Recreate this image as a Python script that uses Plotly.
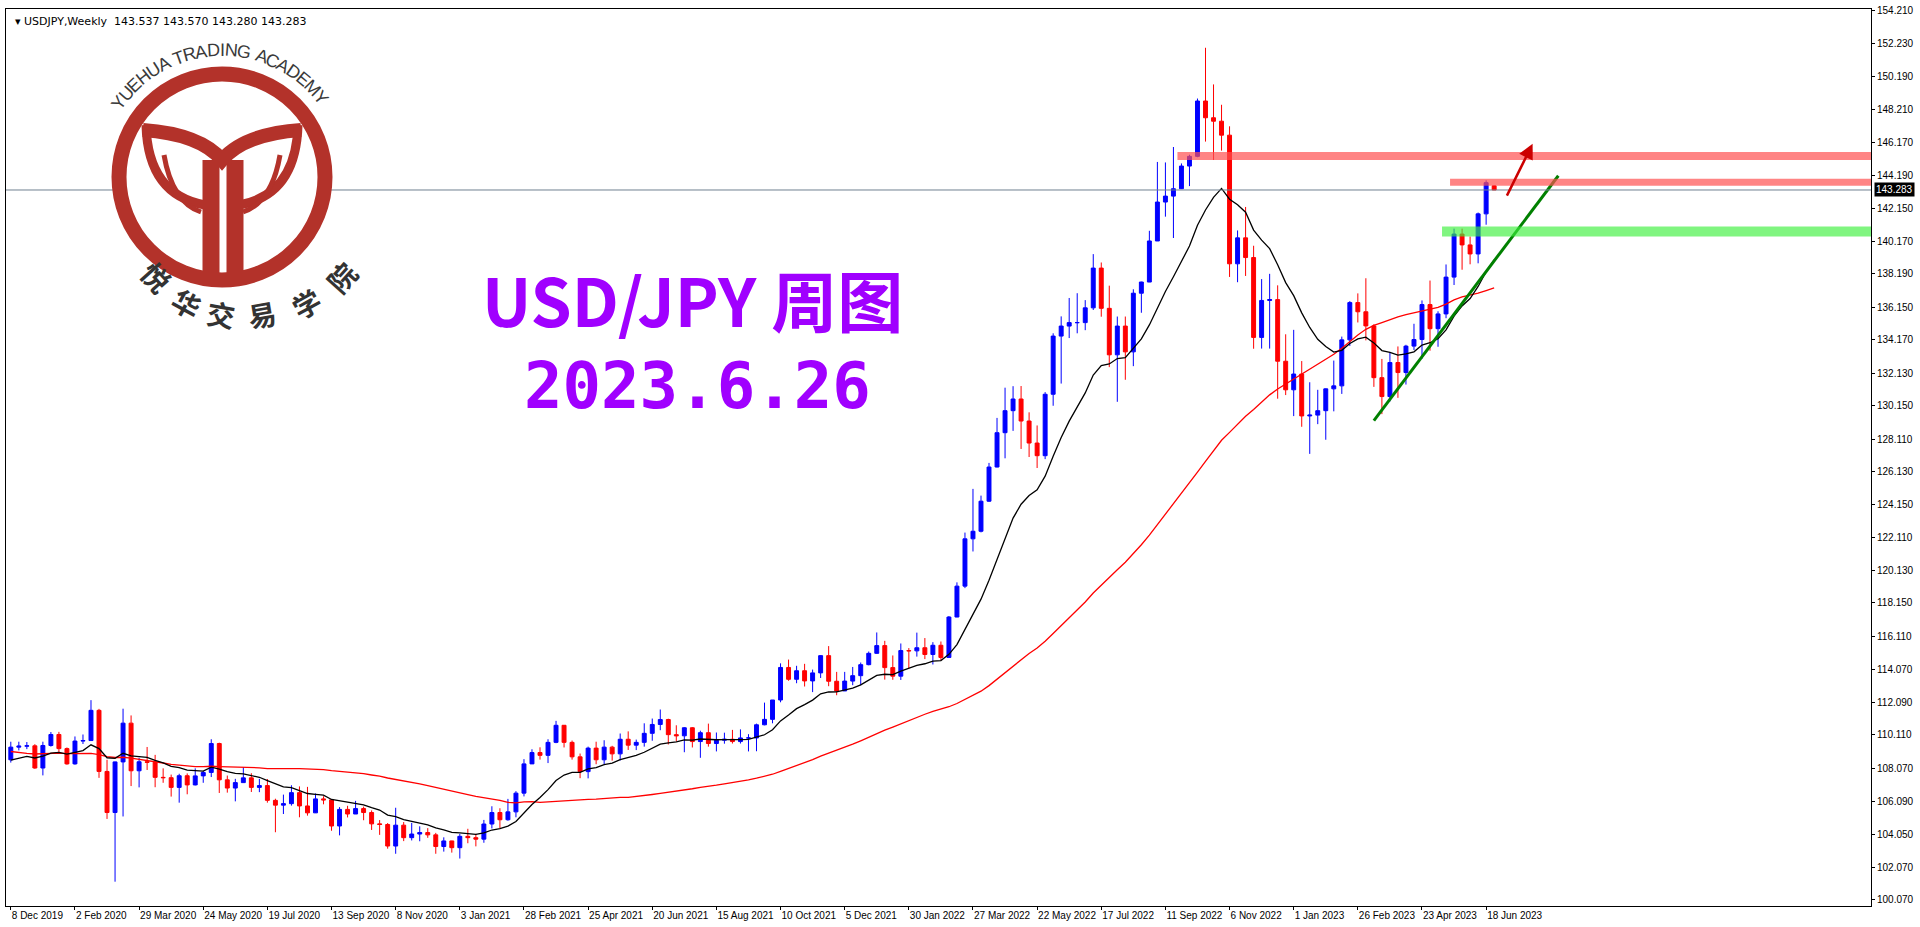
import math
import pandas as pd
import plotly.graph_objects as go

# ---------------- data ----------------
pre_closes = [112.7,113.4,111.2,110.3,108.5,108.2,109.6,109.5,109.7,110.5,110.7,111.9,111.2,111.5,110.0,110.9,
              111.7,112.0,111.9,111.6,111.1,109.9,110.1,109.3,108.3,108.2,108.6,107.3,107.8,108.5,107.9,107.7,
              108.7,106.6,105.7,106.4,105.4,106.3,106.9,108.1,107.6,107.9,106.9,108.4,108.4,108.7,108.2,109.3,
              108.8,108.7,109.5,108.6]
first_open = 108.60
last_open = 143.537
closes = [109.37,109.43,109.45,108.10,
 109.47,110.14,109.28,108.35,109.74,109.77,111.61,107.89,105.39,108.47,110.83,107.93,108.48,
 108.45,107.53,107.51,106.92,107.63,107.07,107.62,107.83,109.59,107.38,106.88,107.21,107.50,
 106.92,107.03,106.13,105.84,105.93,106.60,105.79,105.37,106.22,106.16,104.57,105.58,105.30,
 105.63,105.39,104.70,104.66,103.35,104.62,103.86,104.08,104.17,104.03,103.32,103.66,103.25,
 103.94,103.86,103.77,104.69,105.39,104.95,105.43,106.57,108.35,109.04,108.87,109.66,110.70,
 109.66,108.78,107.88,109.31,108.60,109.37,108.96,109.85,109.49,109.66,110.21,110.75,111.05,
 110.13,110.06,110.55,109.71,110.25,109.59,109.79,109.85,109.71,109.93,109.93,110.73,111.06,
 112.24,114.22,113.50,114.02,113.40,113.89,114.94,113.38,112.79,113.39,113.72,114.39,115.08,
 115.55,114.21,113.69,115.25,115.23,115.42,115.01,115.57,114.83,117.29,119.17,122.05,122.51,
 124.34,126.42,128.51,129.85,130.56,129.22,127.88,127.11,130.85,134.39,135.00,135.21,135.21,
 136.11,138.53,136.08,133.25,135.00,133.43,137.00,137.68,140.18,142.55,142.91,143.36,144.74,
 145.33,148.70,147.68,147.47,146.62,138.79,140.37,139.17,134.31,136.56,136.61,132.86,131.12,
 132.08,129.53,129.58,129.85,131.18,131.36,134.16,136.43,135.87,135.01,131.86,130.71,132.78,
 132.17,133.78,134.18,136.31,134.84,135.74,137.98,140.60,139.94,139.39,141.83,143.73,143.283]
highs = [109.70,109.70,109.68,109.55,
 109.70,110.29,110.30,109.35,110.02,110.14,112.23,111.70,108.60,108.49,111.71,111.30,108.72,
 109.38,108.90,108.08,107.70,107.75,107.77,108.08,107.92,109.85,109.64,107.64,107.44,108.16,
 107.78,107.44,107.43,106.23,106.48,107.05,106.98,106.95,106.55,106.38,106.10,105.72,105.80,
 106.10,105.75,105.52,104.93,104.75,105.68,104.81,104.76,104.55,104.44,104.15,103.88,103.67,
 104.09,104.40,104.09,104.94,105.77,105.65,106.22,106.69,108.64,109.24,109.36,109.85,110.97,
 110.46,109.77,108.98,109.40,109.70,109.79,109.45,110.20,110.33,109.83,110.82,111.11,111.66,
 111.10,110.70,110.59,110.59,110.37,110.80,110.26,110.25,110.42,110.45,110.16,110.80,112.08,
 112.24,114.47,114.70,114.32,114.44,114.09,114.97,115.52,113.95,113.95,114.25,114.52,115.19,
 116.35,115.84,114.95,115.68,115.40,116.34,116.01,115.76,115.80,117.35,119.40,122.43,125.09,
 124.68,126.67,129.41,131.25,131.34,131.35,129.75,128.95,130.98,134.56,135.59,136.71,137.00,
 136.58,139.38,138.87,137.46,135.58,135.58,137.24,137.70,140.80,144.99,144.96,145.90,144.90,
 145.43,148.85,151.94,149.71,148.47,147.16,140.82,142.25,139.89,137.86,138.18,137.48,134.50,
 134.77,132.87,131.58,131.12,131.20,132.90,134.36,136.52,136.99,137.91,135.11,133.00,133.39,
 133.76,133.86,135.14,136.56,137.77,135.90,138.75,140.93,140.93,140.45,141.91,143.87,143.570]
lows = [108.43,109.17,109.25,108.05,
 107.65,109.40,109.00,108.30,108.30,109.56,109.75,107.50,105.00,101.18,105.15,107.00,106.92,
 107.98,106.93,107.20,106.36,105.99,106.50,107.04,107.20,107.55,106.58,106.60,106.07,107.20,
 106.64,106.63,105.99,104.19,105.30,105.81,105.10,105.20,105.58,105.89,104.28,104.00,105.09,
 105.30,104.92,104.33,104.03,103.19,102.88,103.65,103.69,103.64,103.85,102.88,103.01,102.95,
 102.59,103.52,103.33,103.55,104.42,104.42,104.89,105.10,106.37,108.34,108.61,108.40,109.61,
 109.35,108.61,107.48,107.47,108.33,108.34,108.55,108.56,109.20,109.19,109.40,109.76,110.40,
 109.53,109.72,109.06,109.35,108.72,109.40,109.11,109.58,109.59,109.59,109.11,109.12,110.70,
 110.82,112.10,113.41,113.26,113.06,112.72,113.58,113.08,112.53,113.06,113.14,113.14,114.35,
 115.05,113.48,113.47,113.46,114.16,114.88,114.73,114.40,114.65,114.82,117.28,119.05,121.28,
 122.44,124.30,126.40,126.95,128.62,127.52,127.03,126.36,126.90,130.15,131.50,134.27,134.56,
 134.75,135.98,135.57,132.50,130.39,131.73,132.56,135.81,137.70,140.25,141.66,140.36,143.50,
 143.52,145.28,146.23,145.11,145.68,137.99,137.67,138.05,133.62,133.63,133.63,130.58,130.80,
 129.52,128.87,127.22,129.03,128.08,129.81,130.87,133.79,135.22,134.13,131.30,129.64,130.41,
 130.63,131.44,133.54,133.01,133.50,133.74,135.48,137.50,138.43,138.76,138.82,141.17,143.280]

y_ticks = [154.210,152.230,150.190,148.210,146.170,144.190,142.150,140.170,138.190,136.150,134.170,
           132.130,130.150,128.110,126.130,124.150,122.110,120.130,118.150,116.110,114.070,112.090,
           110.110,108.070,106.090,104.050,102.070,100.070]
resist_1 = 145.35
resist_2 = 143.75
support_1 = 140.75
trend_start = (170, 129.25)   # (week index, price)
trend_end = (193, 144.15)
arrow_start = (186.5, 142.85)
arrow_end = (189.8, 146.1)
current_price = 143.283

# ---------------- derived ----------------
n = len(closes)
dates = pd.date_range("2019-12-08", periods=n, freq="7D")
opens = [first_open] + closes[:-2] + [last_open]
all_close = pd.Series(pre_closes + closes)
ma_fast = all_close.ewm(span=13, adjust=False).mean().iloc[len(pre_closes):].tolist()
ma_slow = all_close.rolling(52, min_periods=1).mean().iloc[len(pre_closes):].tolist()

def wk(i):
    return pd.Timestamp("2019-12-08") + pd.Timedelta(days=7 * i)

W, H = 1920, 927
ML, MR, MT, MB = 6, 49, 9, 21
PW, PH = W - ML - MR, H - MT - MB
def px(X, Y):
    return (X - ML) / PW, 1 - (Y - MT) / PH
def pp(X, Y):
    a, b = px(X, Y)
    return "%.5f,%.5f" % (a, b)

fig = go.Figure()
fig.add_trace(go.Candlestick(
    x=dates, open=opens, high=highs, low=lows, close=closes,
    increasing=dict(line=dict(color="#0000ff", width=1), fillcolor="#0000ff"),
    decreasing=dict(line=dict(color="#ff0000", width=1), fillcolor="#ff0000"),
    whiskerwidth=0, showlegend=False, hoverinfo="skip"))
fig.add_trace(go.Scatter(x=dates, y=ma_slow, mode="lines", line=dict(color="#ff0000", width=1.3),
                         showlegend=False, hoverinfo="skip"))
fig.add_trace(go.Scatter(x=dates, y=ma_fast, mode="lines", line=dict(color="#000000", width=1.3),
                         showlegend=False, hoverinfo="skip"))
fig.add_trace(go.Scatter(x=[wk(trend_start[0]), wk(trend_end[0])], y=[trend_start[1], trend_end[1]],
                         mode="lines", line=dict(color="#008000", width=3), showlegend=False, hoverinfo="skip"))

x_end = wk(232)
x_start = wk(-0.6)
shapes = [
    dict(type="line", xref="paper", x0=0, x1=1, yref="y", y0=current_price, y1=current_price,
         line=dict(color="#708090", width=1)),
    dict(type="line", xref="x", x0=wk(145.5), x1=x_end, yref="y", y0=resist_1, y1=resist_1,
         line=dict(color="rgba(255,80,80,0.7)", width=8)),
    dict(type="line", xref="x", x0=wk(179.5), x1=x_end, yref="y", y0=resist_2, y1=resist_2,
         line=dict(color="rgba(255,80,80,0.7)", width=7)),
    dict(type="line", xref="x", x0=wk(178.5), x1=x_end, yref="y", y0=support_1, y1=support_1,
         line=dict(color="rgba(60,240,60,0.65)", width=10)),
]

# logo (pixel geometry)
RED = "#b3322a"
cx, cy, R = 222, 177, 103
x0, y0 = px(cx - R, cy - R); x1, y1 = px(cx + R, cy + R)
shapes.append(dict(type="circle", xref="paper", yref="paper", x0=x0, y0=y1, x1=x1, y1=y0,
                   line=dict(color=RED, width=15), fillcolor="white", layer="above"))
def stroke(d, w):
    shapes.append(dict(type="path", xref="paper", yref="paper", path=d,
                       line=dict(color=RED, width=w), layer="above"))
stroke("M %s Q %s %s Q %s %s" % (pp(143, 130), pp(200, 134), pp(222, 160), pp(244, 134), pp(301, 130)), 14)
stroke("M %s Q %s %s" % (pp(146, 125), pp(148, 195), pp(205, 205)), 9)
stroke("M %s Q %s %s" % (pp(298, 125), pp(296, 195), pp(239, 205)), 9)
stroke("M %s Q %s %s" % (pp(164, 155), pp(172, 202), pp(201, 212)), 5)
stroke("M %s Q %s %s" % (pp(280, 155), pp(272, 202), pp(243, 212)), 5)
stroke("M %s L %s" % (pp(211, 160), pp(211, 273)), 17)
stroke("M %s L %s" % (pp(235, 160), pp(235, 273)), 17)

annotations = []
arc_txt = "YUEHUA TRADING ACADEMY"
cw = {"Y": .667, "U": .722, "E": .667, "H": .722, "A": .667, "T": .611, "R": .722, "D": .722, "I": .34,
      "N": .722, "G": .778, "C": .722, "M": .833, " ": .3}
wts = [cw[c] for c in arc_txt]
tot = sum(wts)
acc = 0.0
for ch, wgt in zip(arc_txt, wts):
    ang = 147 - (acc + wgt / 2) / tot * 111
    acc += wgt
    if ch == " ":
        continue
    X = cx + 127 * math.cos(math.radians(ang)); Y = cy - 127 * math.sin(math.radians(ang))
    ax_, ay_ = px(X, Y)
    annotations.append(dict(x=ax_, y=ay_, xref="paper", yref="paper", text=ch, showarrow=False,
                            xanchor="center", yanchor="middle",
                            textangle=90 - ang, font=dict(family="Liberation Sans", size=18, color="#3a3a3a")))
cn_txt = "悦华交易学院"
for k, ch in enumerate(cn_txt):
    ang = 222 + k * (96 / (len(cn_txt) - 1))
    X = cx + 124 * math.cos(math.radians(ang)); Y = cy - 124 * math.sin(math.radians(ang)) - 10
    ax_, ay_ = px(X, Y)
    annotations.append(dict(x=ax_, y=ay_, xref="paper", yref="paper", text="<b>%s</b>" % ch, showarrow=False,
                            textangle=270 - ang,
                            font=dict(family="Noto Sans CJK SC", size=28, color="#333333")))

tx, ty = px(692, 306 - 58)
annotations.append(dict(x=tx, y=ty, xref="paper", yref="paper", text="<b>USD/JPY 周图</b>", showarrow=False,
                        font=dict(family="Noto Sans CJK SC", size=66, color="#a000ff")))
tx, ty = px(697, 386)
annotations.append(dict(x=tx, y=ty, xref="paper", yref="paper", text="<b>2023.6.26</b>", showarrow=False,
                        font=dict(family="DejaVu Sans Mono", size=64, color="#a000ff")))
annotations.append(dict(x=0.004, y=0.996, xref="paper", yref="paper", xanchor="left", yanchor="top",
                        text="▾ USDJPY,Weekly  143.537 143.570 143.280 143.283", showarrow=False,
                        font=dict(family="DejaVu Sans", size=11, color="#000000")))
annotations.append(dict(x=1.0015, y=current_price, xref="paper", yref="y", xanchor="left",
                        text="143.283", showarrow=False, bgcolor="#000000",
                        font=dict(family="Liberation Sans", size=10, color="#ffffff"), borderpad=1))
annotations.append(dict(x=wk(arrow_end[0]), y=arrow_end[1], ax=wk(arrow_start[0]), ay=arrow_start[1],
                        xref="x", yref="y", axref="x", ayref="y", text="", showarrow=True,
                        arrowhead=2, arrowsize=1.2, arrowwidth=2.5, arrowcolor="#cc0000"))

tick_idx = list(range(0, 192, 8))
fig.update_layout(
    width=W, height=H, margin=dict(l=ML, r=MR, t=MT, b=MB, autoexpand=False),
    paper_bgcolor="white", plot_bgcolor="white",
    shapes=shapes, annotations=annotations,
    xaxis=dict(range=[x_start, x_end], rangeslider=dict(visible=False), showgrid=False, zeroline=False,
               tickvals=[wk(i) for i in tick_idx], ticktext=[wk(i).strftime("%-d %b %Y") for i in tick_idx],
               tickangle=0, automargin=False, ticklabelposition="outside right",
               ticks="outside", ticklen=3, tickcolor="#000", showline=True, linecolor="#000", mirror=True,
               tickfont=dict(family="Liberation Sans", size=10, color="#000")),
    yaxis=dict(range=[99.70, 154.30], side="right", tickvals=y_ticks, ticktext=["%.3f" % v for v in y_ticks],
               automargin=False,
               showgrid=False, zeroline=False, ticks="outside", ticklen=3, tickcolor="#000",
               showline=True, linecolor="#000", mirror=True,
               tickfont=dict(family="Liberation Sans", size=10, color="#000")),
)
fig.write_html("out.html", config={"displayModeBar": False},
               post_script="document.body.style.margin='0';document.body.style.overflow='hidden';")
